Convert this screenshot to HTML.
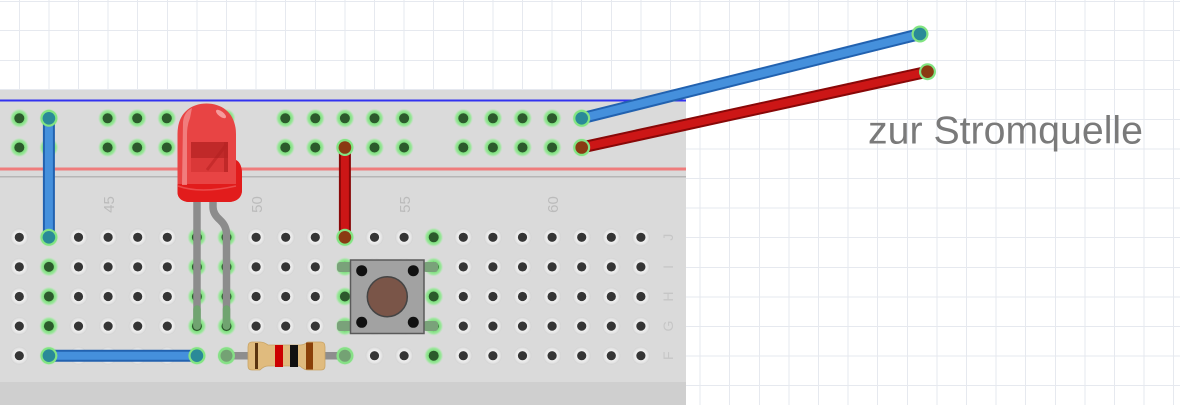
<!DOCTYPE html>
<html><head><meta charset="utf-8"><style>
html,body{margin:0;padding:0;background:#fff;}
svg{display:block;}
</style></head><body>
<svg width="1180" height="405" viewBox="0 0 1180 405" xmlns="http://www.w3.org/2000/svg" xmlns:xlink="http://www.w3.org/1999/xlink">
<defs>
<radialGradient id="rg"><stop offset="0.45" stop-color="#f5f5f5"/><stop offset="0.8" stop-color="#e4e4e4"/><stop offset="1" stop-color="#d2d2d2"/></radialGradient>
<radialGradient id="gg"><stop offset="0.5" stop-color="#78de78"/><stop offset="0.8" stop-color="#9fe69f"/><stop offset="1" stop-color="#c8e2c8" stop-opacity="0.3"/></radialGradient>
<g id="h"><circle r="9" fill="url(#rg)"/><circle r="4.6" fill="#353535"/></g>
<g id="g"><circle r="9.5" fill="url(#gg)"/><circle r="5" fill="#2c5a2c"/></g>
<g id="eb"><circle r="8.5" fill="#82e482"/><circle r="6.3" fill="#2a8a98"/></g>
<g id="er"><circle r="8.5" fill="#82e482"/><circle r="6.3" fill="#8a3a12"/></g>
<g id="eg"><circle r="8.5" fill="#86e086"/><circle r="6" fill="#74a274"/></g>
</defs>
<rect width="1180" height="405" fill="#fff"/>
<!-- grid -->
<path stroke="#e6e9ef" stroke-width="1" fill="none" d="M19.5,0V405M49,0V405M78.5,0V405M108,0V405M137.5,0V405M167.5,0V405M197,0V405M226.5,0V405M256,0V405M285.5,0V405M315.5,0V405M345,0V405M374.5,0V405M404,0V405M433.5,0V405M463.5,0V405M493,0V405M522.5,0V405M552,0V405M581.5,0V405M611.5,0V405M641,0V405M670.5,0V405M700,0V405M729.5,0V405M759.5,0V405M789,0V405M818.5,0V405M848,0V405M877.5,0V405M907.5,0V405M937,0V405M966.5,0V405M996,0V405M1025.5,0V405M1055.5,0V405M1085,0V405M1114.5,0V405M1144,0V405M1173.5,0V405
M0,1.5H1180M0,30.5H1180M0,60.5H1180M0,89.5H1180M0,119.5H1180M0,149H1180M0,178.5H1180M0,208H1180M0,237.5H1180M0,267.5H1180M0,297H1180M0,326.5H1180M0,356H1180M0,385.5H1180"/>
<!-- breadboard -->
<rect x="0" y="90" width="686" height="315" fill="#dadada"/>
<rect x="0" y="382" width="686" height="23" fill="#cfcfcf"/>
<rect x="0" y="99.5" width="686" height="2" fill="#3232f0"/>
<rect x="0" y="167.5" width="686" height="3" fill="#ef7c7c"/>
<rect x="0" y="176" width="686" height="1.5" fill="#b6b6b6"/>
<!-- labels -->
<g font-family="'Liberation Sans', sans-serif" font-size="15" fill="#bbbbbb" text-anchor="middle">
<text transform="translate(114,204.5) rotate(-90)">45</text>
<text transform="translate(262,204.5) rotate(-90)">50</text>
<text transform="translate(410,204.5) rotate(-90)">55</text>
<text transform="translate(558,204.5) rotate(-90)">60</text>
</g>
<g font-family="'Liberation Sans', sans-serif" font-size="14" fill="#c6c6c6" text-anchor="middle">
<text transform="translate(673,237.3) rotate(-90)">J</text>
<text transform="translate(673,266.9) rotate(-90)">I</text>
<text transform="translate(673,296.5) rotate(-90)">H</text>
<text transform="translate(673,326.1) rotate(-90)">G</text>
<text transform="translate(673,355.7) rotate(-90)">F</text>
</g>
<!-- top rail holes -->
<g transform="translate(0,118.3)">
<use xlink:href="#g" x="19.3"/><use xlink:href="#g" x="48.9"/><use xlink:href="#g" x="107.6"/><use xlink:href="#g" x="137.2"/><use xlink:href="#g" x="166.8"/><use xlink:href="#g" x="196.4"/><use xlink:href="#g" x="226"/><use xlink:href="#g" x="285.3"/><use xlink:href="#g" x="315.3"/><use xlink:href="#g" x="344.9"/><use xlink:href="#g" x="374.5"/><use xlink:href="#g" x="404.1"/><use xlink:href="#g" x="463.3"/><use xlink:href="#g" x="492.9"/><use xlink:href="#g" x="522.5"/><use xlink:href="#g" x="552.1"/><use xlink:href="#g" x="581.7"/>
</g>
<g transform="translate(0,147.5)">
<use xlink:href="#g" x="19.3"/><use xlink:href="#g" x="48.9"/><use xlink:href="#g" x="107.6"/><use xlink:href="#g" x="137.2"/><use xlink:href="#g" x="166.8"/><use xlink:href="#g" x="196.4"/><use xlink:href="#g" x="226"/><use xlink:href="#g" x="285.3"/><use xlink:href="#g" x="315.3"/><use xlink:href="#g" x="344.9"/><use xlink:href="#g" x="374.5"/><use xlink:href="#g" x="404.1"/><use xlink:href="#g" x="463.3"/><use xlink:href="#g" x="492.9"/><use xlink:href="#g" x="522.5"/><use xlink:href="#g" x="552.1"/><use xlink:href="#g" x="581.7"/>
</g>
<!-- main holes rows -->
<g transform="translate(0,237.3)">
<use xlink:href="#h" x="19.3"/><use xlink:href="#g" x="48.9"/><use xlink:href="#h" x="78.5"/><use xlink:href="#h" x="108.1"/><use xlink:href="#h" x="137.7"/><use xlink:href="#h" x="167.3"/><use xlink:href="#g" x="196.9"/><use xlink:href="#g" x="226.5"/><use xlink:href="#h" x="256.1"/><use xlink:href="#h" x="285.7"/><use xlink:href="#h" x="315.3"/><use xlink:href="#g" x="344.9"/><use xlink:href="#h" x="374.5"/><use xlink:href="#h" x="404.1"/><use xlink:href="#g" x="433.7"/><use xlink:href="#h" x="463.3"/><use xlink:href="#h" x="492.9"/><use xlink:href="#h" x="522.5"/><use xlink:href="#h" x="552.1"/><use xlink:href="#h" x="581.7"/><use xlink:href="#h" x="611.3"/><use xlink:href="#h" x="640.9"/>
</g>
<g transform="translate(0,266.9)">
<use xlink:href="#h" x="19.3"/><use xlink:href="#g" x="48.9"/><use xlink:href="#h" x="78.5"/><use xlink:href="#h" x="108.1"/><use xlink:href="#h" x="137.7"/><use xlink:href="#h" x="167.3"/><use xlink:href="#g" x="196.9"/><use xlink:href="#g" x="226.5"/><use xlink:href="#h" x="256.1"/><use xlink:href="#h" x="285.7"/><use xlink:href="#h" x="315.3"/><use xlink:href="#g" x="344.9"/><use xlink:href="#h" x="374.5"/><use xlink:href="#h" x="404.1"/><use xlink:href="#g" x="433.7"/><use xlink:href="#h" x="463.3"/><use xlink:href="#h" x="492.9"/><use xlink:href="#h" x="522.5"/><use xlink:href="#h" x="552.1"/><use xlink:href="#h" x="581.7"/><use xlink:href="#h" x="611.3"/><use xlink:href="#h" x="640.9"/>
</g>
<g transform="translate(0,296.5)">
<use xlink:href="#h" x="19.3"/><use xlink:href="#g" x="48.9"/><use xlink:href="#h" x="78.5"/><use xlink:href="#h" x="108.1"/><use xlink:href="#h" x="137.7"/><use xlink:href="#h" x="167.3"/><use xlink:href="#g" x="196.9"/><use xlink:href="#g" x="226.5"/><use xlink:href="#h" x="256.1"/><use xlink:href="#h" x="285.7"/><use xlink:href="#h" x="315.3"/><use xlink:href="#g" x="344.9"/><use xlink:href="#h" x="374.5"/><use xlink:href="#h" x="404.1"/><use xlink:href="#g" x="433.7"/><use xlink:href="#h" x="463.3"/><use xlink:href="#h" x="492.9"/><use xlink:href="#h" x="522.5"/><use xlink:href="#h" x="552.1"/><use xlink:href="#h" x="581.7"/><use xlink:href="#h" x="611.3"/><use xlink:href="#h" x="640.9"/>
</g>
<g transform="translate(0,326.1)">
<use xlink:href="#h" x="19.3"/><use xlink:href="#g" x="48.9"/><use xlink:href="#h" x="78.5"/><use xlink:href="#h" x="108.1"/><use xlink:href="#h" x="137.7"/><use xlink:href="#h" x="167.3"/><use xlink:href="#g" x="196.9"/><use xlink:href="#g" x="226.5"/><use xlink:href="#h" x="256.1"/><use xlink:href="#h" x="285.7"/><use xlink:href="#h" x="315.3"/><use xlink:href="#g" x="344.9"/><use xlink:href="#h" x="374.5"/><use xlink:href="#h" x="404.1"/><use xlink:href="#g" x="433.7"/><use xlink:href="#h" x="463.3"/><use xlink:href="#h" x="492.9"/><use xlink:href="#h" x="522.5"/><use xlink:href="#h" x="552.1"/><use xlink:href="#h" x="581.7"/><use xlink:href="#h" x="611.3"/><use xlink:href="#h" x="640.9"/>
</g>
<g transform="translate(0,355.7)">
<use xlink:href="#h" x="19.3"/><use xlink:href="#g" x="48.9"/><use xlink:href="#h" x="78.5"/><use xlink:href="#h" x="108.1"/><use xlink:href="#h" x="137.7"/><use xlink:href="#h" x="167.3"/><use xlink:href="#g" x="196.9"/><use xlink:href="#g" x="226.5"/><use xlink:href="#h" x="256.1"/><use xlink:href="#h" x="285.7"/><use xlink:href="#h" x="315.3"/><use xlink:href="#g" x="344.9"/><use xlink:href="#h" x="374.5"/><use xlink:href="#h" x="404.1"/><use xlink:href="#g" x="433.7"/><use xlink:href="#h" x="463.3"/><use xlink:href="#h" x="492.9"/><use xlink:href="#h" x="522.5"/><use xlink:href="#h" x="552.1"/><use xlink:href="#h" x="581.7"/><use xlink:href="#h" x="611.3"/><use xlink:href="#h" x="640.9"/>
</g>

<!-- LED legs -->
<g fill="none" stroke-linecap="round">
<path d="M197,198 L197,326" stroke="#8c8c8c" stroke-width="7.5"/>
<path d="M213,198 L213,207 Q213,214 220,220 Q226.5,226 226.5,234 L226.5,326" stroke="#8c8c8c" stroke-width="7.5"/>
<path d="M197,309 L197,326" stroke="#70a470" stroke-width="7.5"/>
<path d="M226.5,309 L226.5,326" stroke="#70a470" stroke-width="7.5"/>
</g>
<!-- LED body -->
<path d="M177.5,192 L177.5,134 C177.5,114 190,103.5 206.5,103.5 C223,103.5 236,114 236,134 L236,160 C240,162 242,167 242,174 L242,190 C242,198 236,202 228,202 L190,202 C182,202 177.5,198 177.5,192 Z" fill="#e84444"/>
<path d="M236,160 C240,162 242,167 242,174 L242,190 C242,198 236,202 228,202 L190,202 C182,202 177.5,198 177.5,192 L177.5,184 L236,184 Z" fill="#e21c1c"/>
<path d="M178,186 Q200,194 236,186" stroke="#f06060" stroke-width="1.5" fill="none" opacity="0.7"/>
<rect x="191" y="142" width="37" height="16" fill="#b82424" opacity="0.85"/>
<rect x="224" y="142" width="4" height="30" fill="#b82424" opacity="0.85"/>
<path d="M207,170 L226,145" stroke="#b82424" stroke-width="3"/>
<rect x="191" y="158" width="33" height="14" fill="#d03030" opacity="0.6"/>
<path d="M183,122 Q184,112 192,108 L190,118 Q187,125 187,135 L187,185 L182,185 Z" fill="#f49090" opacity="0.75"/>
<ellipse cx="221" cy="114" rx="6" ry="2.6" transform="rotate(38 221 114)" fill="#f8aaaa" opacity="0.85"/>

<!-- resistor -->
<path d="M226.5,355.7 L344.9,355.7" stroke="#8e8e8e" stroke-width="7.5"/>
<use xlink:href="#eg" x="226.5" y="355.7"/>
<use xlink:href="#eg" x="344.9" y="355.7"/>
<path d="M252,342 Q248,342 248,347 L248,366 Q248,370 252,370 L260,370 Q264,366 268,366 L300,366 Q304,370 308,370 L321,370 Q325,370 325,366 L325,347 Q325,342 321,342 L308,342 Q304,345 300,345 L268,345 Q264,342 260,342 Z" fill="#e0bb7e" stroke="#c9a466" stroke-width="0.8"/>
<rect x="255" y="343" width="3" height="26" fill="#5a3410"/>
<rect x="275" y="345" width="8" height="22" fill="#cc0000"/>
<rect x="290" y="345" width="8" height="22" fill="#111"/>
<rect x="306" y="342.5" width="7" height="27" fill="#8a4008"/>

<!-- button legs -->
<rect x="337" y="262" width="15" height="10" rx="3" fill="#7aa27a"/>
<rect x="423" y="262" width="15" height="10" rx="3" fill="#7aa27a"/>
<rect x="337" y="321" width="15" height="10" rx="3" fill="#7aa27a"/>
<rect x="423" y="321" width="15" height="10" rx="3" fill="#7aa27a"/>
<!-- button -->
<rect x="350.5" y="260" width="73.5" height="73.5" fill="#a2a2a2" stroke="#5a5a5a" stroke-width="1.5"/>
<circle cx="361.7" cy="270.7" r="5.5" fill="#111"/>
<circle cx="413.3" cy="270.7" r="5.5" fill="#111"/>
<circle cx="361.7" cy="322.3" r="5.5" fill="#111"/>
<circle cx="413.3" cy="322.3" r="5.5" fill="#111"/>
<circle cx="387.3" cy="296.7" r="20" fill="#7a5548" stroke="#444" stroke-width="1.5"/>

<!-- wires -->
<g fill="none" stroke-linecap="round">
<path d="M48.9,118.3 L48.9,237.3" stroke="#2262b0" stroke-width="12"/>
<path d="M48.9,118.3 L48.9,237.3" stroke="#4590dc" stroke-width="8"/>
<path d="M48.9,355.7 L196.9,355.7" stroke="#2262b0" stroke-width="12"/>
<path d="M48.9,355.7 L196.9,355.7" stroke="#4590dc" stroke-width="8"/>
<path d="M344.9,147.5 L344.9,237.3" stroke="#880808" stroke-width="12"/>
<path d="M344.9,147.5 L344.9,237.3" stroke="#cc1616" stroke-width="8"/>
<path d="M581.7,118.3 L920,34" stroke="#2262b0" stroke-width="12"/>
<path d="M581.7,118.3 L920,34" stroke="#4590dc" stroke-width="8"/>
<path d="M581.7,147.5 L927.5,71.7" stroke="#880808" stroke-width="12"/>
<path d="M581.7,147.5 L927.5,71.7" stroke="#cc1616" stroke-width="8"/>
</g>
<use xlink:href="#eb" x="48.9" y="118.3"/>
<use xlink:href="#eb" x="48.9" y="237.3"/>
<use xlink:href="#eb" x="48.9" y="355.7"/>
<use xlink:href="#eb" x="196.9" y="355.7"/>
<use xlink:href="#er" x="344.9" y="147.5"/>
<use xlink:href="#er" x="344.9" y="237.3"/>
<use xlink:href="#eb" x="581.7" y="118.3"/>
<use xlink:href="#er" x="581.7" y="147.5"/>
<use xlink:href="#eb" x="920" y="34"/>
<use xlink:href="#er" x="927.5" y="71.7"/>

<text x="868" y="143.5" font-family="'Liberation Sans', sans-serif" font-size="39" fill="#7a7a7a" textLength="275" lengthAdjust="spacingAndGlyphs">zur Stromquelle</text>
</svg>
</body></html>
